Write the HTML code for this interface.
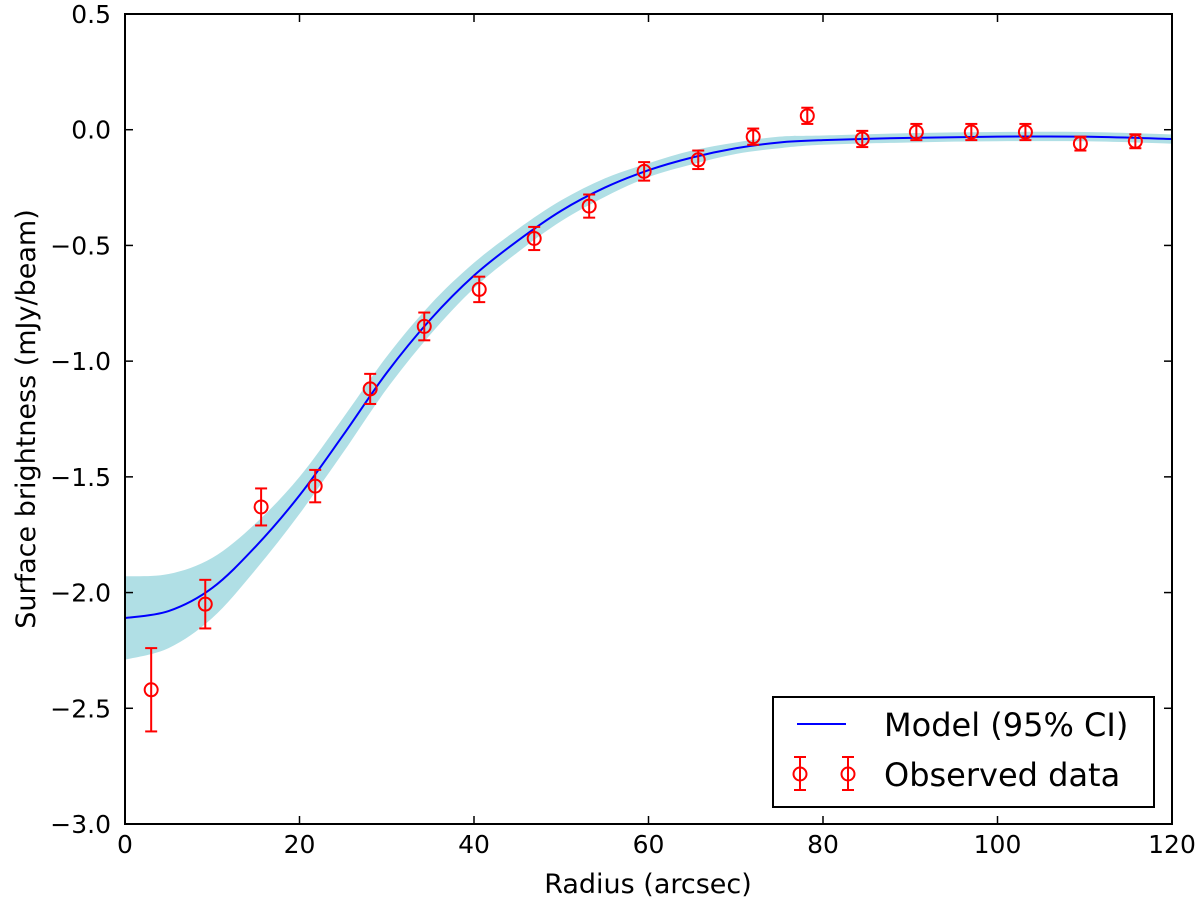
<!DOCTYPE html>
<html><head><meta charset="utf-8"><style>
body{margin:0;background:#fff}
svg text{font-family:"DejaVu Sans","Liberation Sans",sans-serif;fill:#000}
</style></head><body>
<svg id="chart" width="1200" height="902" xmlns="http://www.w3.org/2000/svg">
<g id="band"></g>
<g id="model"></g>
<g id="pts"></g>
<rect x="125" y="14" width="1047" height="810" fill="none" stroke="#000" stroke-width="2"/>
<g id="axes"></g>
<text x="648" y="893" font-size="27" text-anchor="middle">Radius (arcsec)</text>
<text transform="translate(35,419) rotate(-90)" font-size="27" text-anchor="middle">Surface brightness (mJy/beam)</text>
<g>
<rect x="773" y="697" width="381" height="110" fill="#fff" stroke="#000" stroke-width="2"/>
<line x1="797" y1="724" x2="846" y2="724" stroke="#0000ff" stroke-width="2"/>
<text x="884" y="736" font-size="32">Model (95% CI)</text>
<g stroke="red" stroke-width="2" fill="none">
<line x1="800" y1="757" x2="800" y2="790"/><line x1="794" y1="757" x2="806" y2="757"/><line x1="794" y1="790" x2="806" y2="790"/><circle cx="800" cy="774" r="6.5"/>
<line x1="848" y1="757" x2="848" y2="790"/><line x1="842" y1="757" x2="854" y2="757"/><line x1="842" y1="790" x2="854" y2="790"/><circle cx="848" cy="774" r="6.5"/>
</g>
<text x="884" y="786" font-size="32">Observed data</text>
</g>
</svg>
<script>
const obsX=[3.0,9.2,15.6,21.8,28.1,34.3,40.6,46.9,53.2,59.5,65.7,72.0,78.2,84.5,90.7,97.0,103.2,109.5,115.8];
const obsY=[-2.42,-2.05,-1.63,-1.54,-1.12,-0.85,-0.69,-0.47,-0.33,-0.18,-0.13,-0.03,0.06,-0.04,-0.01,-0.01,-0.01,-0.06,-0.05];
const obsErr=[0.18,0.105,0.08,0.07,0.065,0.06,0.055,0.05,0.05,0.04,0.04,0.035,0.035,0.035,0.035,0.035,0.035,0.03,0.03];
const modelX=[0,5,10,15,20,25,30,35,40,45,50,55,60,65,70,75,80,90,100,110,120];
const modelY=[-2.11,-2.08,-1.98,-1.8,-1.58,-1.32,-1.05,-0.82,-0.63,-0.48,-0.35,-0.25,-0.175,-0.12,-0.08,-0.055,-0.045,-0.035,-0.03,-0.03,-0.04];
const ciHalf=[0.18,0.16,0.13,0.1,0.08,0.075,0.07,0.065,0.055,0.05,0.045,0.04,0.03,0.03,0.025,0.025,0.02,0.02,0.02,0.02,0.02];
const xTicks=[0,20,40,60,80,100,120];
const yTicks=[0.5,0.0,-0.5,-1.0,-1.5,-2.0,-2.5,-3.0];
const sx=v=>125+v*(1047/120);
const sy=v=>14+(0.5-v)*(810/3.5);
const NS='http://www.w3.org/2000/svg';
function mk(t,a,p){const e=document.createElementNS(NS,t);for(const k in a)e.setAttribute(k,a[k]);p.appendChild(e);return e;}
function smooth(pts){
 let d='M'+pts[0][0]+','+pts[0][1];
 for(let i=0;i<pts.length-1;i++){
  const p0=pts[i-1]||pts[i],p1=pts[i],p2=pts[i+1],p3=pts[i+2]||p2;
  const c1=[p1[0]+(p2[0]-p0[0])/6,p1[1]+(p2[1]-p0[1])/6];
  const c2=[p2[0]-(p3[0]-p1[0])/6,p2[1]-(p3[1]-p1[1])/6];
  d+=' C'+c1+' '+c2+' '+p2;
 }
 return d;
}
const upP=modelX.map((x,i)=>[sx(x),sy(modelY[i]+ciHalf[i])]);
const dnP=modelX.map((x,i)=>[sx(x),sy(modelY[i]-ciHalf[i])]).reverse();
const bd=smooth(upP)+' L'+dnP[0]+' '+smooth(dnP).slice(1)+' Z';
const band=mk('path',{d:bd,fill:'#b0dfe5',stroke:'none'},document.getElementById('band'));


const ml=mk('path',{d:smooth(modelX.map((x,i)=>[sx(x),sy(modelY[i])])),fill:'none',stroke:'#0000ff','stroke-width':2},document.getElementById('model'));


const pg=document.getElementById('pts');
obsX.forEach((x,i)=>{
 const g=mk('g',{stroke:'red','stroke-width':2,fill:'none'},pg);
 
 
 const cx=sx(x),t=sy(obsY[i]+obsErr[i]),b=sy(obsY[i]-obsErr[i]);
 mk('line',{x1:cx,y1:t,x2:cx,y2:b},g);
 mk('line',{x1:cx-6,y1:t,x2:cx+6,y2:t},g);
 mk('line',{x1:cx-6,y1:b,x2:cx+6,y2:b},g);
 mk('circle',{cx:cx,cy:sy(obsY[i]),r:6.5},g);
});
const ax=document.getElementById('axes');
xTicks.forEach(v=>{
 const x=sx(v);
 mk('line',{x1:x,y1:824,x2:x,y2:816,stroke:'#000','stroke-width':1.5},ax);
 mk('line',{x1:x,y1:14,x2:x,y2:22,stroke:'#000','stroke-width':1.5},ax);
 const t=mk('text',{x:x,y:853,'font-size':25,'text-anchor':'middle'},ax);
 t.textContent=v;
 
 
});
yTicks.forEach(v=>{
 const y=sy(v);
 mk('line',{x1:125,y1:y,x2:133,y2:y,stroke:'#000','stroke-width':1.5},ax);
 mk('line',{x1:1172,y1:y,x2:1164,y2:y,stroke:'#000','stroke-width':1.5},ax);
 const t=mk('text',{x:111,y:y+9,'font-size':25,'text-anchor':'end'},ax);
 t.textContent=(v<0?'\u2212':'')+Math.abs(v).toFixed(1);
 
 
});
</script>
</body></html>
